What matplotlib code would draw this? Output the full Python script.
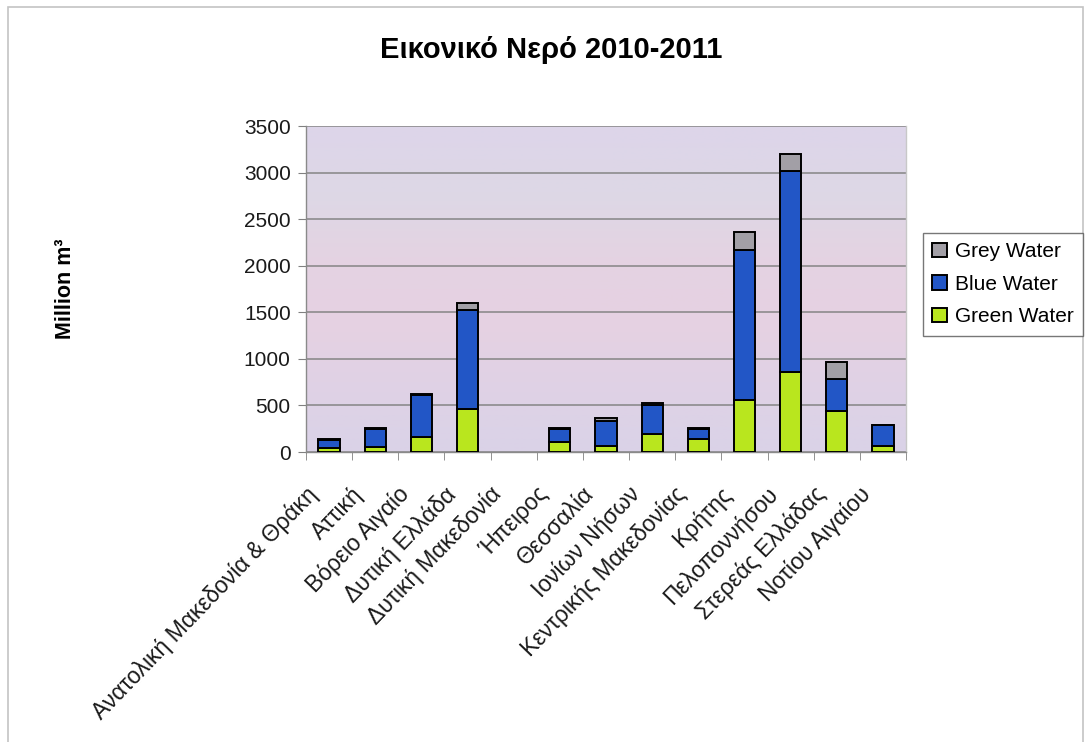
import numpy as np
import matplotlib.pyplot as plt
from matplotlib.colors import LinearSegmentedColormap
from matplotlib.patches import Rectangle
from matplotlib.transforms import ScaledTranslation

plt.rcParams['font.family'] = ['Liberation Sans', 'DejaVu Sans']

# ---- data (Million m3) ----
regions = ['Ανατολική Μακεδονία & Θράκη', 'Αττική', 'Βόρειο Αιγαίο', 'Δυτική Ελλάδα',
           'Δυτική Μακεδονία', 'Ήπειρος', 'Θεσσαλία', 'Ιονίων Νήσων',
           'Κεντρικής Μακεδονίας', 'Κρήτης', 'Πελοποννήσου', 'Στερεάς Ελλάδας',
           'Νοτίου Αιγαίου']
green_water = [40, 50, 165, 460, 0, 111, 68, 190, 137, 560, 858, 441, 65]
blue_water = [89, 195, 451, 1069, 0, 139, 267, 315, 113, 1605, 2158, 345, 221]
grey_water = [8, 10, 5, 72, 0, 5, 35, 19, 5, 197, 179, 176, 5]
yticks = [0, 500, 1000, 1500, 2000, 2500, 3000, 3500]

green_c = '#B9E61E'
blue_c = '#2256C6'
grey_c = '#A29FA6'

fig = plt.figure(figsize=(10.89, 7.42), dpi=100)
ax = fig.add_axes([306 / 1089, 290 / 742, 600 / 1089, 326 / 742])

# plot area fill (soft lavender/pink like the Excel texture)
bg = LinearSegmentedColormap.from_list('bg', [
    (0.0, '#DAD2E8'), (0.15, '#DED2E6'), (0.4, '#E6D1E2'),
    (0.6, '#E4D3E2'), (0.8, '#DDD8E6'), (1.0, '#DDD5EA')])
ax.imshow(np.linspace(0, 1, 256).reshape(-1, 1), cmap=bg, origin='lower',
          extent=[0, 1, 0, 1], transform=ax.transAxes, aspect='auto', zorder=0)

x = np.arange(len(regions))
g = np.array(green_water, dtype=float)
b = np.array(blue_water, dtype=float)
gr = np.array(grey_water, dtype=float)
# regions with no data get no bar at all
empty = (g + b + gr) == 0
g[empty] = np.nan
b[empty] = np.nan
gr[empty] = np.nan

w = 0.46
kw = dict(width=w, edgecolor='black', linewidth=1.4, zorder=3)
ax.bar(x, g, color=green_c, label='Green Water', **kw)
ax.bar(x, b, bottom=g, color=blue_c, label='Blue Water', **kw)
ax.bar(x, gr, bottom=g + b, color=grey_c, label='Grey Water', **kw)

ax.set_xlim(-0.5, len(regions) - 0.5)
ax.set_ylim(0, 3500)
ax.set_yticks(yticks)
ax.yaxis.grid(True, color='#858585', linewidth=1.1)
ax.set_axisbelow(True)

# category ticks sit between bars, like Excel
ax.set_xticks(x)
ax.set_xticks(np.arange(-0.5, len(regions), 1.0), minor=True)
ax.tick_params(axis='x', which='major', length=0, pad=22)
ax.tick_params(axis='x', which='minor', length=6, color='#808080')
ax.tick_params(axis='y', length=6, color='#808080', labelsize=15, pad=5)
ax.set_xticklabels(regions, rotation=46, ha='right', va='top',
                   rotation_mode='anchor', fontsize=16.5, color='#1a1a1a')
shift = ScaledTranslation(-24 / 100, 0, fig.dpi_scale_trans)
for lab in ax.get_xticklabels():
    lab.set_transform(lab.get_transform() + shift)
for lab in ax.get_yticklabels():
    lab.set_color('#1a1a1a')

for s in ax.spines.values():
    s.set_color('#8a8a8a')
    s.set_linewidth(1)
ax.spines['top'].set_visible(False)
ax.spines['right'].set_color('#c8c8c8')

ax.set_ylabel('Million m³', fontsize=15.5, fontweight='bold')
ax.yaxis.set_label_coords(-0.383, 0.5)

fig.text(551 / 1089, 1 - 50 / 742, 'Εικονικό Νερό 2010-2011', ha='center', va='center',
         fontsize=21, fontweight='bold')

h, l = ax.get_legend_handles_labels()
leg = fig.legend(h[::-1], l[::-1], loc='upper left',
                 bbox_to_anchor=(923 / 1089, 1 - 233 / 742), fontsize=15,
                 frameon=True, fancybox=False, handlelength=0.7, handleheight=0.7,
                 handletextpad=0.4, labelspacing=0.65, borderpad=0.45, borderaxespad=0)
leg.get_frame().set_edgecolor('#555555')
leg.get_frame().set_linewidth(1)

# chart area border
fig.patches.append(Rectangle((8 / 1089, -0.01), 1075 / 1089, 1 - 7 / 742 + 0.01,
                             transform=fig.transFigure, fill=False,
                             edgecolor='#c4c4c4', linewidth=1.2))

fig.savefig('out.png', dpi=100)
